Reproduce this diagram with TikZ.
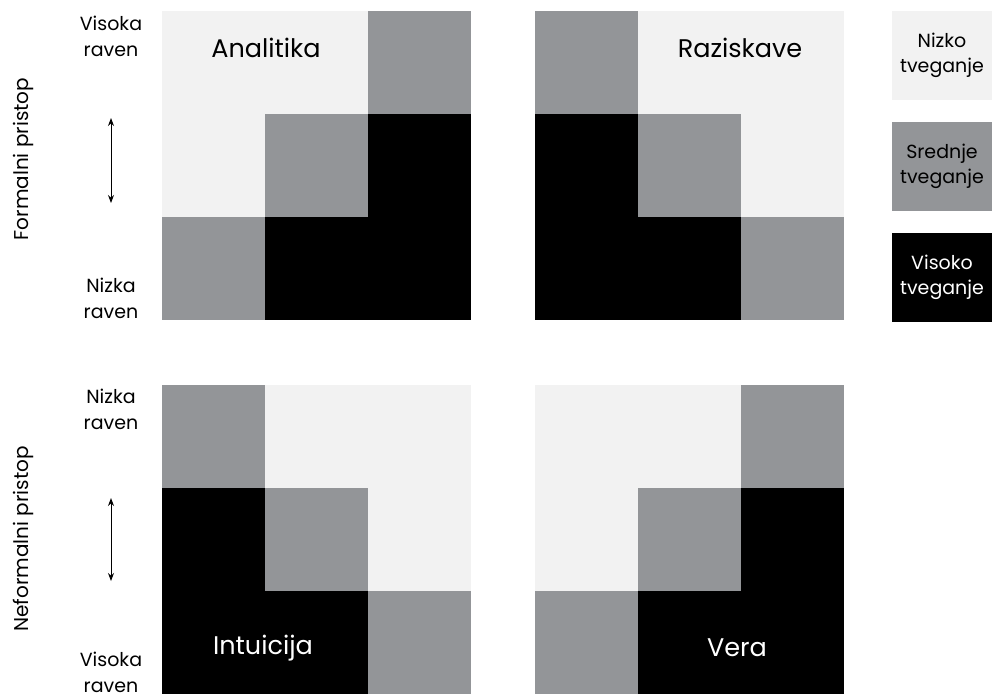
\documentclass[tikz,border=0pt]{standalone}
\usepackage{fontspec}
\setmainfont{Poppins}
\usetikzlibrary{arrows.meta,positioning}
\definecolor{lowrisk}{HTML}{F2F2F2}
\definecolor{midrisk}{HTML}{939598}
\definecolor{highrisk}{HTML}{000000}

\begin{document}
\begin{tikzpicture}[x=1pt,y=-1pt,
  lvl/.style={font=\fontsize{19}{26}\selectfont, align=center, inner sep=0pt},
  side/.style={font=\fontsize{20}{24}\selectfont, rotate=90, inner sep=0pt},
  title/.style={font=\fontsize{25.5}{28}\selectfont, inner sep=0pt},
  legbox/.style={rectangle, minimum width=100pt, minimum height=89pt, inner sep=0pt, font=\fontsize{19}{25}\selectfont, align=center},
  updown/.style={{Stealth[length=8pt,width=6pt]}-{Stealth[length=8pt,width=6pt]}, line width=1pt},
]
  \useasboundingbox (0,0) rectangle (992,697);

  % grids, cells row by row
  \foreach \c [count=\i from 0] in {lowrisk,lowrisk,midrisk,lowrisk,midrisk,highrisk,midrisk,highrisk,highrisk}
    \fill[\c] ({162+103*mod(\i,3)},{11+103*floor(\i/3)}) rectangle +(103,103);
  \foreach \c [count=\i from 0] in {midrisk,lowrisk,lowrisk,highrisk,midrisk,lowrisk,highrisk,highrisk,midrisk}
    \fill[\c] ({535+103*mod(\i,3)},{11+103*floor(\i/3)}) rectangle +(103,103);
  \foreach \c [count=\i from 0] in {midrisk,lowrisk,lowrisk,highrisk,midrisk,lowrisk,highrisk,highrisk,midrisk}
    \fill[\c] ({162+103*mod(\i,3)},{385+103*floor(\i/3)}) rectangle +(103,103);
  \foreach \c [count=\i from 0] in {lowrisk,lowrisk,midrisk,lowrisk,midrisk,highrisk,midrisk,highrisk,highrisk}
    \fill[\c] ({535+103*mod(\i,3)},{385+103*floor(\i/3)}) rectangle +(103,103);

  % titles
  \node[title] (analitika) at (266,48) {Analitika};
  \node[title] (raziskave) at (740,48) {Raziskave};
  \node[title, text=white] (intuicija) at (263,648) {Intuicija};
  \node[title, text=white] (vera) at (737,648) {Vera};

  % levels and arrows
  \node[lvl] (fhigh) at (111,36) {Visoka\\raven};
  \node[lvl] (flow) at (111,298) {Nizka\\raven};
  \coordinate (farrtop) at (111,118);
  \coordinate (farrbot) at (111,203);
  \draw[updown] (farrtop) -- (farrbot);
  \node[side] (formal) at (23,159) {Formalni pristop};

  \node[lvl] (nlow) at (111,409) {Nizka\\raven};
  \node[lvl] (nhigh) at (111,672) {Visoka\\raven};
  \coordinate (narrtop) at (111,498);
  \coordinate (narrbot) at (111,581);
  \draw[updown] (narrtop) -- (narrbot);
  \node[side] (neformal) at (23,539) {Neformalni pristop};

  % legend
  \node[legbox, fill=lowrisk] (leglow) at (942,55) {Nizko\\tveganje};
  \node[legbox, fill=midrisk, below=22pt of leglow] (legmid) {Srednje\\tveganje};
  \node[legbox, fill=highrisk, text=white, below=22pt of legmid] (leghigh) {Visoko\\tveganje};
\end{tikzpicture}
\end{document}
